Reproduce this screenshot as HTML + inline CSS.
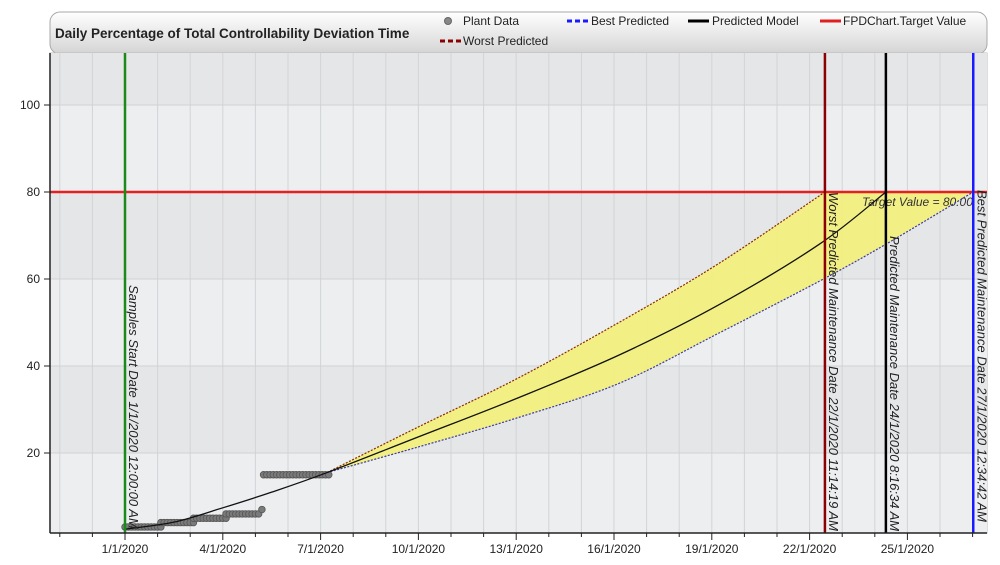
<!DOCTYPE html>
<html><head><meta charset="utf-8">
<style>
html,body{margin:0;padding:0;background:#fff;}
svg{display:block;font-family:"Liberation Sans",sans-serif;}
</style></head>
<body>
<svg id="chart" width="1000" height="565" viewBox="0 0 1000 565">
<defs>
<linearGradient id="hdr" x1="0" y1="0" x2="0" y2="1">
<stop offset="0" stop-color="#ffffff"/><stop offset="1" stop-color="#d4d4d4"/>
</linearGradient>
<clipPath id="plotclip"><rect x="50" y="53" width="937" height="480"/></clipPath>
</defs>
<rect x="50" y="12" width="937" height="42" rx="10" fill="url(#hdr)" stroke="#a8a8a8"/>
<text x="55" y="38" font-size="13.5" font-weight="bold" fill="#222">Daily Percentage of Total Controllability Deviation Time</text>
<g font-size="12" fill="#222">
<g><circle cx="448" cy="21" r="3.5" fill="#888" stroke="#666"/><text x="463" y="25">Plant Data</text></g>
<g><line x1="567" y1="21" x2="588" y2="21" stroke="#1a1aff" stroke-width="3" stroke-dasharray="5,3"/><text x="591" y="25">Best Predicted</text></g>
<g><line x1="688" y1="21" x2="709" y2="21" stroke="#000" stroke-width="3"/><text x="712" y="25">Predicted Model</text></g>
<g><line x1="820" y1="21" x2="841" y2="21" stroke="#e02020" stroke-width="3"/><text x="843" y="25">FPDChart.Target Value</text></g>
<g><line x1="440" y1="41" x2="461" y2="41" stroke="#8b0000" stroke-width="3" stroke-dasharray="5,3"/><text x="463" y="45">Worst Predicted</text></g>
</g>
<rect x="50" y="53" width="937" height="480" fill="#e9ebee" stroke="#bbb"/>
<g id="bands" clip-path="url(#plotclip)"></g>
<g id="grid" clip-path="url(#plotclip)"></g>
<g id="series" clip-path="url(#plotclip)"></g>
<g id="axes"></g>
</svg>
<script>
const NS="http://www.w3.org/2000/svg";
// ---- data ----
const yTicks=[20,40,60,80,100];
const xTickDays=[1,4,7,10,13,16,19,22,25];
const xTickLabels=["1/1/2020","4/1/2020","7/1/2020","10/1/2020","13/1/2020","16/1/2020","19/1/2020","22/1/2020","25/1/2020"];
const plantDays=[];const plantVals=[];
const plantGroups=[[1.0,2.1,3],[2.1,3.1,4],[3.1,4.1,5],[4.1,5.1,6],[5.2,5.2,7],[5.25,7.3,15]];
plantGroups.forEach(g=>{for(let d=g[0];d<=g[1]+1e-6;d+=0.1){plantDays.push(d);plantVals.push(g[2]);}});
const modelDays=[1,2.5,4,5.5,7.2,10,13,16.15,19.2,22.3,24.34];
const modelVals=[2.5,4.1,7.4,11,15.5,23.7,32.5,42.5,54,68,80];
const worstDays=[7.2,10,13,16.15,19.2,22.47];
const worstVals=[15.5,26,37,50,63.5,80];
const bestDays=[7.2,10,13,16.15,19.2,22.3,24.34,27.02];
const bestVals=[15.5,21.4,28,36,47.5,59.5,68,80];
const targetValue=80;
const markers=[
 {day:1.0,color:"#1a8a1a",name:"samples-start-line",label:"Samples Start Date  1/1/2020 12:00:00 AM",ly:285},
 {day:22.47,color:"#8b0000",name:"worst-maintenance-line",label:"Worst Predicted Maintenance Date  22/1/2020 11:14:19 AM",ly:192},
 {day:24.34,color:"#000",name:"predicted-maintenance-line",label:"Predicted Maintenance Date  24/1/2020 8:16:34 AM",ly:236},
 {day:27.02,color:"#1a1aff",name:"best-maintenance-line",label:"Best Predicted Maintenance Date  27/1/2020 12:34:42 AM",ly:190}
];
// ---- axes ----
const X=d=>125+(d-1)*32.6;
const Y=v=>540-v*4.35;
function mk(tag,attrs,parent){const e=document.createElementNS(NS,tag);for(const k in attrs)e.setAttribute(k,attrs[k]);parent.appendChild(e);return e;}
const bands=document.getElementById('bands'),grid=document.getElementById('grid'),series=document.getElementById('series'),axes=document.getElementById('axes');
for(let v=0;v<120;v+=20){const r=mk('rect',{x:50,y:Y(v+20),width:937,height:Y(v)-Y(v+20),fill:(v/20)%2?'#e5e6e8':'#eceef0'},bands);

}
for(let d=-1;d<=28;d++){const l=mk('line',{x1:X(d),x2:X(d),y1:53,y2:533,stroke:'#d2d4d6','stroke-width':1},grid);

}
yTicks.forEach(v=>{const l=mk('line',{x1:50,x2:987,y1:Y(v),y2:Y(v),stroke:'#cfd1d3'},grid);

});
function smooth(xs,ys){let p=xs.map((d,i)=>[X(d),Y(ys[i])]);let s=`M${p[0][0]},${p[0][1]}`;
for(let i=0;i<p.length-1;i++){const p0=p[i-1]||p[i],p1=p[i],p2=p[i+1],p3=p[i+2]||p2;
s+=` C${p1[0]+(p2[0]-p0[0])/6},${p1[1]+(p2[1]-p0[1])/6} ${p2[0]-(p3[0]-p1[0])/6},${p2[1]-(p3[1]-p1[1])/6} ${p2[0]},${p2[1]}`;}return s;}
function smoothRev(xs,ys){return smooth(xs.slice().reverse(),ys.slice().reverse());}
const wPath=smooth(worstDays,worstVals), bRev=smoothRev(bestDays,bestVals);
const fillD=wPath+` L${X(bestDays[bestDays.length-1])},${Y(bestVals[bestVals.length-1])}`+bRev.replace(/^M[^C]*/,' ')+'Z';
const band=mk('path',{d:fillD,fill:'#f2ef7e','fill-opacity':0.95},series);


const tl=mk('line',{x1:50,x2:987,y1:Y(targetValue),y2:Y(targetValue),stroke:'#e52020','stroke-width':2.5},series);


const tt=mk('text',{x:862,y:Y(targetValue)+14,'font-size':12,'font-style':'italic',fill:'#333'},series);tt.textContent='Target Value = 80.00';


plantDays.forEach((d,i)=>{const c=mk('circle',{cx:X(d),cy:Y(plantVals[i]),r:3.3,fill:'#7a7a7a',stroke:'#555','stroke-width':0.8},series);

});
const wl=mk('path',{d:wPath,fill:'none',stroke:'#8b2a00','stroke-width':1.2,'stroke-dasharray':'2,1.5'},series);


const bl=mk('path',{d:smooth(bestDays,bestVals),fill:'none',stroke:'#3a3aaa','stroke-width':1.2,'stroke-dasharray':'2,1.5'},series);


const ml=mk('path',{d:smooth(modelDays,modelVals),fill:'none',stroke:'#111','stroke-width':1.3},series);


markers.forEach(m=>{const x=X(m.day);const l=mk('line',{x1:x,x2:x,y1:53,y2:533,stroke:m.color,'stroke-width':2.5},series);


const t=mk('text',{x:x+4,y:m.ly,'font-size':13,'font-style':'italic',fill:'#222',transform:`rotate(90 ${x+4} ${m.ly})`},series);t.textContent=m.label;

});
mk('line',{x1:50,x2:50,y1:53,y2:533,stroke:'#222','stroke-width':1.5},axes);
mk('line',{x1:50,x2:987,y1:533,y2:533,stroke:'#222','stroke-width':1.5},axes);
yTicks.forEach(v=>{mk('line',{x1:44,x2:50,y1:Y(v),y2:Y(v),stroke:'#222'},axes);
const t=mk('text',{x:40,y:Y(v)+4,'font-size':12,'text-anchor':'end',fill:'#222'},axes);t.textContent=v;

});
for(let d=-1;d<=27;d++){const big=xTickDays.includes(d);mk('line',{x1:X(d),x2:X(d),y1:533,y2:big?540:537,stroke:'#222'},axes);}
xTickDays.forEach((d,i)=>{const t=mk('text',{x:X(d),y:553,'font-size':12,'text-anchor':'middle',fill:'#222'},axes);t.textContent=xTickLabels[i];

});
</script>
</body></html>
